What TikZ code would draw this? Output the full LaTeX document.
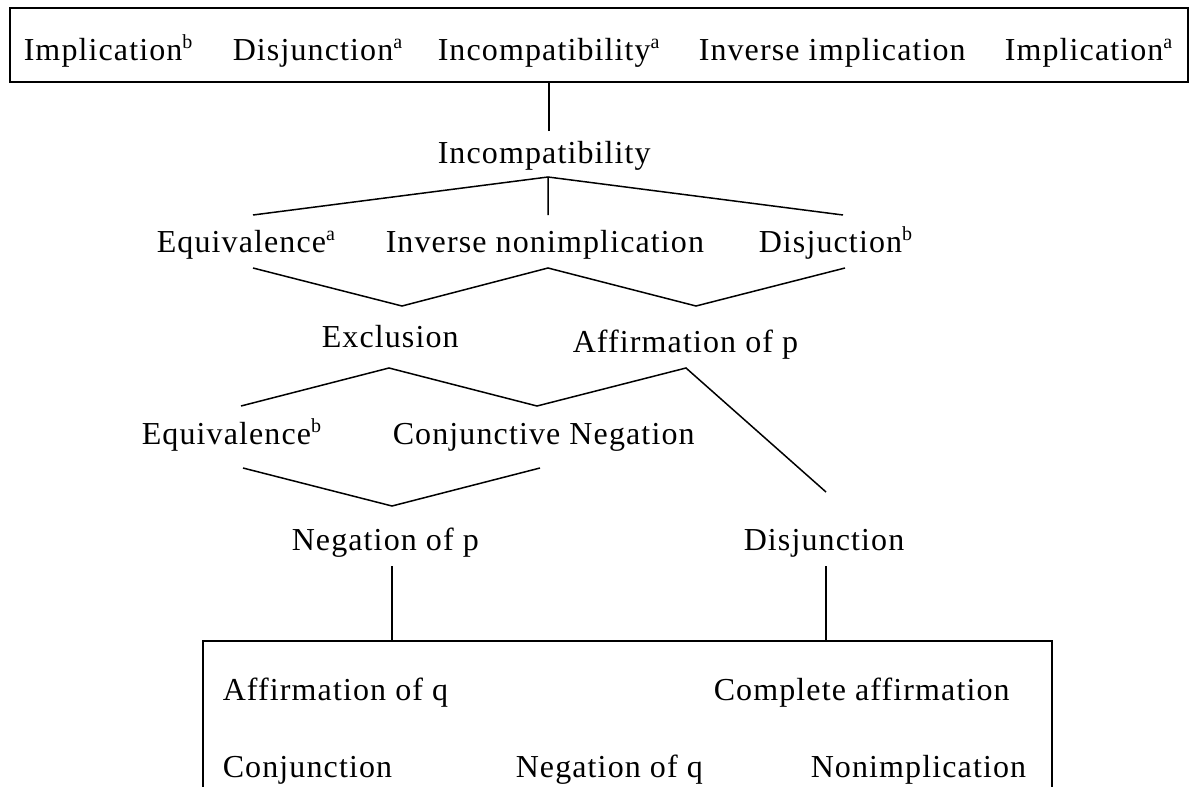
\documentclass[tikz,border=0pt]{standalone}
\usepackage{fontspec}
\setmainfont{Liberation Serif}[LetterSpace=3.5]
\newcommand{\termfont}{\fontsize{32}{38}\selectfont}
\newcommand{\upmark}[1]{\raisebox{12pt}{\fontsize{20}{20}\selectfont#1}}
\begin{document}
\begin{tikzpicture}
[-,line width=1.5pt,%
  every node/.style={inner sep=0pt},%
  word/.style={anchor=base west,font=\termfont},%
  x=1pt,y=-1pt]
\useasboundingbox (0,0) rectangle (1189,787);
\clip (0,0) rectangle (1189,787);
\node[draw,minimum width=1178pt,minimum height=74pt] (tb) at (599,45) {};
\node[word] (impb) at (23,60) {Implication\upmark{b}};
\node[word] (disja) at (232,60) {Disjunction\upmark{a}};
\node[word] (inca) at (437,60) {Incompatibility\upmark{a}};
\node[word] (invimp) at (698,60) {Inverse implication};
\node[word] (impa) at (1004,60) {Implication\upmark{a}};
\node[word] (inc) at (437,163) {Incompatibility};
\node[word] (eqa) at (156,252) {Equivalence\upmark{a}};
\node[word] (inv) at (385,252) {Inverse nonimplication};
\node[word] (disb) at (758,252) {Disjuction\upmark{b}};
\node[word] (excl) at (321,347) {Exclusion};
\node[word] (affp) at (572,352) {Affirmation of p};
\node[word] (eqb) at (141,444) {Equivalence\upmark{b}};
\node[word] (conj) at (392,444) {Conjunctive Negation};
\node[word] (negp) at (291,550) {Negation of p};
\node[word] (disj) at (743,550) {Disjunction};
\node[draw,anchor=north west,minimum width=849pt,minimum height=200pt] (tab) at (202,640) {};
\node[word] (affq) at (222,700) {Affirmation of q};
\node[word] (compl) at (713,700) {Complete affirmation};
\node[word] (conjn) at (222,777) {Conjunction};
\node[word] (negq) at (515,777) {Negation of q};
\node[word] (nonimp) at (810,777) {Nonimplication};
\foreach \n/\x/\y in {inc-n/549/131,inc-s/548/177,eqa-n/253/215,inv-n/548/215,%
  disb-n/843/215,eqa-s/253/268,excl-n/402/306,inv-s/548/268,affp-n/696/306,%
  disb-s/845/268,excl-s/389/368,eqb-n/241/406,conj-n/537/406,affp-s/686/368,%
  disj-n/826/492,eqb-s/243/468,negp-n/392/506,conj-s/540/468,negp-s/392/566,%
  disj-s/826/566}
  \coordinate (\n) at (\x,\y);
\draw (inc-n) -- (inc-n |- tb.south);
\draw (eqa-n) -- (inc-s) -- (disb-n) (inc-s) -- (inv-n);
\draw (eqa-s) -- (excl-n) -- (inv-s) -- (affp-n) -- (disb-s);
\draw (eqb-n) -- (excl-s) -- (conj-n) -- (affp-s) -- (disj-n);
\draw (eqb-s) -- (negp-n) -- (conj-s);
\draw (negp-s) -- (negp-s |- tab.north);
\draw (disj-s) -- (disj-s |- tab.north);
\end{tikzpicture}
\end{document}
